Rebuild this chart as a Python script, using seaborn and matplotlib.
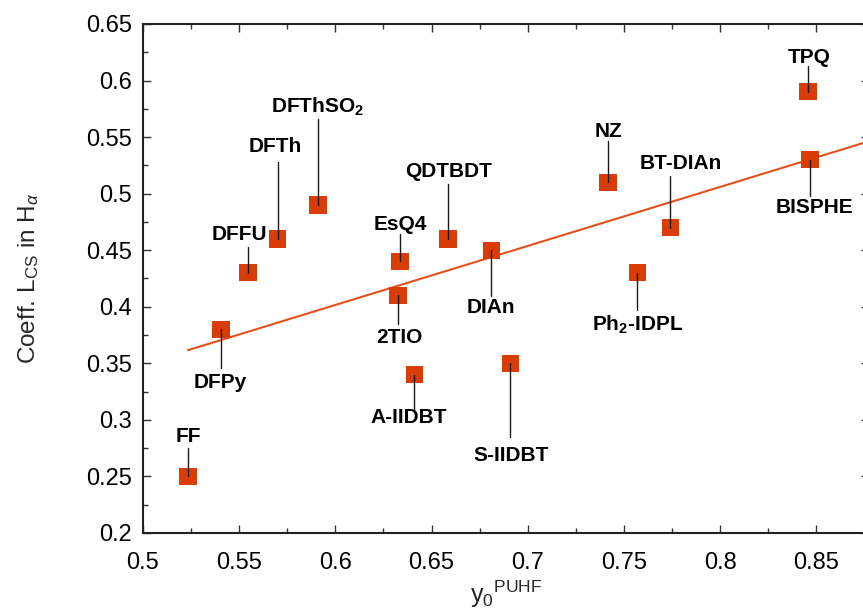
import numpy as np
import pandas as pd
import matplotlib
matplotlib.use("Agg")
import matplotlib.pyplot as plt
import seaborn as sns

# molecule names and values
names = ["FF", "DFPy", "DFFU", "DFTh", r"DFThSO$_\mathbf{2}$", "EsQ4", "2TIO",
         "QDTBDT", "DIAn", "A-IIDBT", "S-IIDBT", "NZ", "BT-DIAn",
         r"Ph$_\mathbf{2}$-IDPL", "TPQ", "BISPHE"]
y0_puhf = [0.5234, 0.5405, 0.5546, 0.5700, 0.5910, 0.6336, 0.6325,
           0.6585, 0.6810, 0.6410, 0.6910, 0.7417, 0.7740,
           0.7570, 0.8457, 0.8467]
coeff_lcs = [0.25, 0.38, 0.43, 0.46, 0.49, 0.44, 0.41,
             0.46, 0.45, 0.34, 0.35, 0.51, 0.47,
             0.43, 0.59, 0.53]

# label placement (data coords): text centre x, text centre y, end of leader line
label_x = [0.5234, 0.5400, 0.5499, 0.5686, 0.5910, 0.6336, 0.6331,
           0.6590, 0.6809, 0.6383, 0.6913, 0.7417, 0.7796,
           0.7573, 0.8462, 0.8488]
label_y = [0.2852, 0.3329, 0.4636, 0.5413, 0.5767, 0.4724, 0.3726,
           0.5193, 0.3991, 0.3019, 0.2684, 0.5546, 0.5263,
           0.3841, 0.6200, 0.4875]
leader_end = [0.2754, 0.3461, 0.4530, 0.5281, 0.5661, 0.4645, 0.3850,
              0.5087, 0.4097, 0.3073, 0.2852, 0.5466, 0.5157,
              0.3974, 0.6129, 0.4981]

df = pd.DataFrame({"x": y0_puhf, "y": coeff_lcs, "name": names})

sns.set_style("ticks")
plt.rcParams["font.family"] = ["Liberation Sans", "DejaVu Sans"]
plt.rcParams["mathtext.fontset"] = "custom"
plt.rcParams["mathtext.rm"] = "Liberation Sans"
plt.rcParams["mathtext.it"] = "Liberation Sans:italic"
plt.rcParams["mathtext.bf"] = "Liberation Sans:bold"

fig = plt.figure(figsize=(8.63, 6.11), dpi=100)
ax = fig.add_axes([0.1657, 0.1277, 0.8416, 0.8331])

# linear fit line
slope, intercept = np.polyfit(df["x"], df["y"], 1)
fit_x = np.array([df["x"].min(), 0.8775])
fit = pd.DataFrame({"x": fit_x, "y": slope * fit_x + intercept})
sns.lineplot(data=fit, x="x", y="y", color="#e2501c", lw=1.5, ax=ax, zorder=2)

sns.scatterplot(data=df, x="x", y="y", marker="s", s=155, color="#d93c06",
                edgecolor="none", linewidth=0, ax=ax, zorder=3)

# leader lines and labels
for i, name in enumerate(names):
    ax.plot([y0_puhf[i], y0_puhf[i]], [coeff_lcs[i], leader_end[i]],
            color="#1a1a1a", lw=1.0, zorder=4)
    ax.text(label_x[i], label_y[i], name, ha="center", va="center",
            fontsize=15, fontweight="bold", color="black", zorder=5)

ax.set_xlim(0.5, 0.8775)
ax.set_ylim(0.2, 0.65)
ax.set_xticks(np.arange(0.5, 0.851, 0.05))
ax.set_xticklabels(["0.5", "0.55", "0.6", "0.65", "0.7", "0.75", "0.8", "0.85"])
ax.set_xticks(np.arange(0.525, 0.876, 0.05), minor=True)
ax.set_yticks(np.arange(0.2, 0.651, 0.05))
ax.set_yticklabels(["0.2", "0.25", "0.3", "0.35", "0.4", "0.45", "0.5", "0.55", "0.6", "0.65"])
ax.set_yticks(np.arange(0.225, 0.65, 0.05), minor=True)
ax.tick_params(which="both", direction="in", top=True, right=True,
               labelsize=17, color="#333333", labelcolor="black")
ax.tick_params(which="major", length=6, width=1)
ax.tick_params(which="minor", length=3.5, width=1)
ax.tick_params(axis="x", pad=14)
ax.tick_params(axis="y", pad=8)
for sp in ax.spines.values():
    sp.set_linewidth(1.5)
    sp.set_color("#222222")

ax.set_xlabel(r"y$_0$$^{\mathrm{PUHF}}$", fontsize=18, labelpad=3)
ax.set_ylabel(r"Coeff. L$_{\mathrm{CS}}$ in H$_\alpha$", fontsize=17.5, labelpad=32)

fig.savefig("out.png", dpi=100)
